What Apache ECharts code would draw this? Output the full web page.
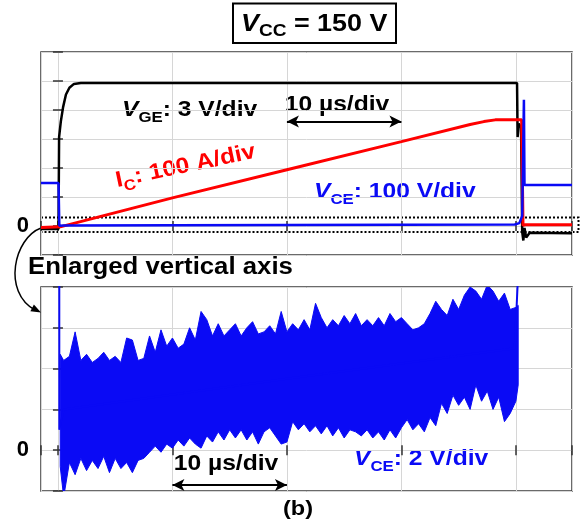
<!DOCTYPE html>
<html>
<head>
<meta charset="utf-8">
<script src="https://cdn.jsdelivr.net/npm/echarts@6/dist/echarts.min.js"></script>
<style>
  html, body { margin: 0; padding: 0; background: #fff; }
  #chart { width: 580px; height: 529px; }
</style>
</head>
<body>
<div id="chart"></div>
<script>
// time in us, 10 us/div; values in V or A
var vgeT = [-1.48, 0.05, 0.1, 0.25, 0.45, 0.7, 1.0, 1.4, 2.0, 40.1, 40.15, 40.25, 40.45, 40.55, 40.65, 40.75, 40.9, 41.2, 44.9];
var vgeV = [-0.3, -0.3, 9.2, 10.8, 12.3, 13.6, 14.3, 14.7, 14.8, 14.8, 9.2, 10.6, 10.2, -0.6, -1.5, -0.2, -1.2, -0.7, -0.75];

var icT = [-1.48, 0.2, 10, 20, 30, 36, 37.2, 38.2, 40.5, 40.62, 40.8, 44.9];
var icA = [-5, -3, 97, 194, 291, 350, 360, 366, 366, 2, 4, 4];

var vceT = [-1.48, 0.05, 0.12, 0.5, 20, 39.9, 40.3, 40.55, 40.65, 40.7, 40.75, 44.9];
var vceV = [148, 148, 1, 2, 3.5, 5, 10, 35, 300, 435, 141, 141];

// enlarged V_CE (2 V/div): envelope of the noisy on-state trace
var bandT = [0.2, 0.5, 1.0, 1.5, 2.0, 2.5, 3.0, 3.5, 4.0, 4.5, 5.0, 5.5, 6.0, 6.5, 7.0, 7.5, 8.0, 8.5, 9.0, 9.5,
    10.0, 10.5, 11.0, 11.5, 12.0, 12.5, 13.0, 13.5, 14.0, 14.5, 15.0, 15.5, 16.0, 16.5, 17.0, 17.5, 18.0, 18.5, 19.0, 19.5,
    20.0, 20.5, 21.0, 21.5, 22.0, 22.5, 23.0, 23.5, 24.0, 24.5, 25.0, 25.5, 26.0, 26.5, 27.0, 27.5, 28.0, 28.5, 29.0, 29.5,
    30.0, 30.5, 31.0, 31.5, 32.0, 32.5, 33.0, 33.5, 34.0, 34.5, 35.0, 35.5, 36.0, 36.5, 37.0, 37.5, 38.0, 38.5, 39.0, 39.5,
    40.0, 40.2];
var bandHi = [4.7, 4.4, 4.6, 5.8, 4.4, 4.7, 4.3, 4.5, 4.8, 4.4, 4.6, 4.3, 5.5, 5.4, 4.4, 4.5, 5.6, 4.8, 5.9, 5.1,
    5.5, 5.0, 5.2, 6.0, 5.4, 6.8, 6.4, 5.6, 6.2, 5.6, 5.9, 6.2, 5.6, 6.0, 6.3, 5.7, 5.8, 6.1, 5.7, 6.8,
    5.8, 6.2, 5.9, 6.4, 5.9, 7.2, 6.5, 6.0, 6.4, 6.1, 6.6, 6.2, 6.7, 6.1, 6.4, 6.1, 6.5, 6.1, 6.7, 6.3,
    6.5, 6.2, 5.9, 6.0, 6.2, 6.7, 7.3, 6.9, 6.6, 7.4, 6.9, 7.6, 8.0, 7.8, 7.4, 8.1, 7.8, 7.3, 7.7, 6.9,
    7.0, 7.1];
var bandLo = [-0.8, -2.3, -0.6, -1.2, -0.4, -1.0, -0.5, -0.9, -0.3, -1.1, -0.4, -0.9, -0.6, -1.1, -0.5, -0.4, -0.1, 0.2, -0.1, 0.3,
    0.1, 0.5, 0.2, 0.6, 0.3, 0.1, 0.7, 0.4, 0.9, 0.5, 1.0, 0.6, 1.0, 0.5, 0.9, 0.3, 0.9, 1.1, 0.7, 0.3,
    0.4, 1.4, 1.0, 1.3, 0.9, 1.2, 0.8, 1.2, 0.7, 1.1, 0.6, 1.0, 0.9, 0.7, 1.0, 0.6, 0.9, 0.5, 1.0, 0.6,
    1.1, 1.5, 1.0, 1.3, 0.9, 1.6, 1.2, 2.3, 1.8, 2.7, 2.2, 2.6, 2.0, 3.2, 2.4, 2.9, 2.0, 2.6, 1.4, 1.8,
    2.4, 3.2];

var FONT = '"Liberation Sans", Arial, Helvetica, sans-serif';
var BLUE = '#0a0af5';
var RED = '#ff0000';
var STRETCH = 1.12;

function pairs(xs, ys) {
    return xs.map(function (x, i) { return [x, ys[i]]; });
}

// rich styles for "V_sub: ..." labels, sub dropped by padding
function labelRich(size, subSize, color) {
    var pad = Math.round(0.85 * (size - subSize) + 5);
    return {
        it: {fontSize: size, fontWeight: 'bold', fontStyle: 'italic', fontFamily: FONT, fill: color, lineHeight: size, verticalAlign: 'top'},
        rm: {fontSize: size, fontWeight: 'bold', fontFamily: FONT, fill: color, lineHeight: size, verticalAlign: 'top'},
        sb: {fontSize: subSize, fontWeight: 'bold', fontFamily: FONT, fill: color, lineHeight: 4, verticalAlign: 'top', padding: [pad, 0, 0, 0]}
    };
}

function label(x, y, text, size, subSize, color, rot) {
    return {
        type: 'text',
        x: x,
        y: y,
        rotation: rot || 0,
        scaleX: STRETCH,
        style: {
            text: text,
            rich: labelRich(size, subSize, color),
            fill: color,
            align: 'left',
            verticalAlign: 'middle'
        }
    };
}

function plainText(x, y, text, size, align) {
    return {
        type: 'text',
        x: x,
        y: y,
        scaleX: STRETCH,
        style: {
            text: text,
            font: 'bold ' + size + 'px ' + FONT,
            fill: '#000',
            align: align || 'left',
            verticalAlign: 'middle'
        }
    };
}

var tickStyle = {show: true, inside: true, length: 5, lineStyle: {color: '#333', width: 1.5}};
var gridLine = {show: true, lineStyle: {color: '#d6d6d6', width: 1}};

function xAx(grid, pos, split) {
    return {
        type: 'value', gridIndex: grid, position: pos,
        min: -1.48, max: 44.9, splitNumber: 5,
        axisLine: {show: false}, axisTick: tickStyle, axisLabel: {show: false},
        splitLine: split ? gridLine : {show: false}
    };
}

function yAx(grid, pos, min, max, step, main) {
    return {
        type: 'value', gridIndex: grid, position: pos,
        min: min, max: max, interval: step,
        axisLine: {show: false}, axisTick: tickStyle,
        axisLabel: main ? {
            show: true, margin: 12, color: '#000', fontSize: 22, fontWeight: 'bold', fontFamily: FONT,
            formatter: function (v) { return v === 0 ? '0' : ''; }
        } : {show: false},
        splitLine: main ? gridLine : {show: false}
    };
}

var chart = echarts.init(document.getElementById('chart'), null, {renderer: 'canvas'});

var option = {
    animation: false,
    backgroundColor: '#fff',
    grid: [
        {left: 41, top: 52, width: 531, height: 203, show: true, borderColor: '#3a3a3a', borderWidth: 1.5, backgroundColor: 'transparent'},
        {left: 41, top: 287, width: 531, height: 204, show: true, borderColor: '#3a3a3a', borderWidth: 1.5, backgroundColor: 'transparent'}
    ],
    xAxis: [xAx(0, 'bottom', true), xAx(0, 'top', false), xAx(1, 'bottom', true), xAx(1, 'top', false)],
    yAxis: [
        yAx(0, 'left', -100, 600, 100, true),
        yAx(0, 'right', -100, 600, 100, false),
        {type: 'value', gridIndex: 0, min: -3, max: 18, interval: 3, show: false},
        yAx(1, 'left', -2, 8, 2, true),
        yAx(1, 'right', -2, 8, 2, false)
    ],
    series: [
        {
            name: 'VGE', type: 'line', xAxisIndex: 0, yAxisIndex: 2,
            data: pairs(vgeT, vgeV), symbol: 'none',
            lineStyle: {color: '#000', width: 2.5}
        },
        {
            name: 'IC', type: 'line', xAxisIndex: 0, yAxisIndex: 0,
            data: pairs(icT, icA), symbol: 'none',
            lineStyle: {color: RED, width: 3}
        },
        {
            name: 'VCE', type: 'line', xAxisIndex: 0, yAxisIndex: 0,
            data: pairs(vceT, vceV), symbol: 'none',
            lineStyle: {color: BLUE, width: 2.5},
            markLine: {
                silent: true, symbol: ['arrow', 'arrow'], symbolSize: [9, 12],
                label: {show: false},
                lineStyle: {color: '#000', width: 2, type: 'solid'},
                data: [[{coord: [20, 360]}, {coord: [30, 360]}]]
            }
        },
        {
            name: 'VCE zoom', type: 'line', xAxisIndex: 2, yAxisIndex: 3,
            data: pairs(vceT, vceV), symbol: 'none',
            lineStyle: {color: BLUE, width: 2},
            markLine: {
                silent: true, symbol: ['arrow', 'arrow'], symbolSize: [9, 12],
                label: {show: false},
                lineStyle: {color: '#000', width: 2, type: 'solid'},
                data: [[{coord: [10, -1.7]}, {coord: [20, -1.7]}]]
            }
        },
        {
            // noise band drawn as one polygon: upper envelope forward, lower envelope back
            name: 'VCE band', type: 'custom', xAxisIndex: 2, yAxisIndex: 3,
            clip: true,
            data: [[bandT[0], bandLo[0]]],
            renderItem: function (params, api) {
                var pts = [];
                for (var i = 0; i < bandT.length; i++) pts.push(api.coord([bandT[i], bandHi[i]]));
                for (var j = bandT.length - 1; j >= 0; j--) pts.push(api.coord([bandT[j], bandLo[j]]));
                return {
                    type: 'polygon',
                    shape: {points: pts},
                    style: {fill: BLUE, stroke: BLUE, lineWidth: 1, lineJoin: 'miter', miterLimit: 4}
                };
            }
        }
    ],
    graphic: [
        {type: 'rect', shape: {x: 233, y: 3.5, width: 163, height: 39.5}, style: {fill: '#fff', stroke: '#000', lineWidth: 2}},
        label(241, 24, '{it|V}{sb|CC}{rm| = 150 V}', 24, 17, '#000'),
        label(122, 110, '{it|V}{sb|GE}{rm|: 3 V/div}', 22, 15, '#000'),
        plainText(337, 105, '10 \u00b5s/div', 22, 'center'),
        label(116, 181, '{rm|I}{sb|C}{rm|: 100 A/div}', 22, 15, RED, 12 * Math.PI / 180),
        label(314, 192, '{it|V}{sb|CE}{rm|: 100 V/div}', 22, 15, BLUE),
        plainText(28, 268, 'Enlarged vertical axis', 23, 'left'),
        plainText(226, 464, '10 \u00b5s/div', 22, 'center'),
        label(354, 459, '{it|V}{sb|CE}{rm|: 2 V/div}', 22, 15, BLUE),
        plainText(298, 509, '(b)', 21, 'center'),
        // dotted zoom window around zero
        {type: 'polyline', shape: {points: [[41, 217.5], [578.5, 217.5], [578.5, 232], [41, 232]]},
            style: {fill: null, stroke: '#000', lineWidth: 2, lineDash: [2, 2]}},
        // curved pointer to the lower panel
        {type: 'bezierCurve', shape: {x1: 41, y1: 228, cpx1: 14, cpy1: 238, cpx2: 2, cpy2: 292, x2: 35, y2: 310},
            style: {fill: null, stroke: '#000', lineWidth: 1.5}},
        {type: 'polygon', shape: {points: [[41, 312.5], [30.4, 311.2], [33.9, 304.6]]}, style: {fill: '#000'}}
    ]
};

chart.setOption(option);
</script>
</body>
</html>
